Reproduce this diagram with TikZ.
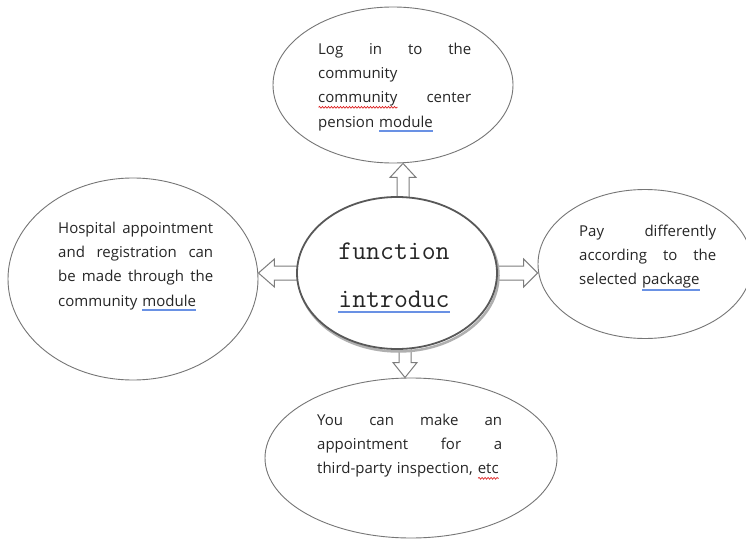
\documentclass[tikz,border=0pt]{standalone}
\usepackage{fontspec}
\setmainfont{Open Sans}
\usetikzlibrary{shapes.geometric,calc,shadows,decorations.pathmorphing}
\definecolor{ovalgray}{RGB}{118,118,118}
\definecolor{arrgray}{RGB}{125,125,125}
\definecolor{cgray}{RGB}{88,88,88}
\definecolor{shadowcol}{RGB}{175,175,175}
\definecolor{txtcol}{RGB}{38,38,38}
\definecolor{ulblue}{RGB}{105,145,228}
\definecolor{ulred}{RGB}{222,40,40}
\setlength\parindent{0pt}
\newsavebox\ulbox
\newlength\ulw
\newcommand\blueline[3]{\leavevmode\sbox\ulbox{#3}\setlength\ulw{\wd\ulbox}\rlap{\color{ulblue}\rule[-#1]{\ulw}{#2}}\usebox\ulbox}
\newcommand\redwave[1]{\leavevmode\sbox\ulbox{#1}\setlength\ulw{\wd\ulbox}\rlap{\tikz[baseline=0pt]{\draw[ulred,line width=0.7pt,decorate,decoration={snake,amplitude=0.9pt,segment length=3pt}] (0pt,-4.5pt) -- (\ulw,-4.5pt);}}\usebox\ulbox}
\pgfdeclarelayer{bg}
\pgfsetlayers{bg,main}
\tikzset{
  oval/.style={ellipse, draw=ovalgray, line width=0.9pt, inner sep=0pt},
  cnode/.style={ellipse, draw=cgray, line width=1.8pt, fill=white, inner sep=0pt,
    drop shadow={shadow xshift=1.5pt, shadow yshift=-2.5pt, opacity=1, fill=none, draw=shadowcol, line width=2.5pt}},
  txt/.style={anchor=north west, inner sep=0pt, font=\fontsize{15}{24.3}\selectfont, text=txtcol},
  ctxt/.style={anchor=base, inner sep=0pt, font=\fontsize{27}{30}\ttfamily, text=txtcol},
  blockarrow/.style={draw=arrgray, line width=1pt, fill=white, line join=miter}
}
\begin{document}
\begin{tikzpicture}[x=1pt,y=-1pt]
\useasboundingbox (0,0) rectangle (746,540);
\begin{pgfonlayer}{bg}
\fill[white] (0,0) rectangle (746,540);
\end{pgfonlayer}
% outer ellipses
\node[oval, minimum width=240pt, minimum height=156pt] (top) at (393,85) {};
\node[oval, minimum width=250pt, minimum height=202pt] (lft) at (133,279) {};
\node[oval, minimum width=214pt, minimum height=149pt] (rgt) at (645,264) {};
\node[oval, minimum width=292pt, minimum height=160pt] (bot) at (411,458) {};
% centre
\node[cnode, minimum width=200pt, minimum height=152pt] (c) at (397,273) {};
% arrow end points
\coordinate (uS) at ($(c.north)+(6,8)$);
\coordinate (uT) at ($(top.south)+(10,0)$);
\coordinate (dS) at ($(c.south)+(8,-8)$);
\coordinate (dT) at ($(bot.north)+(-6,0)$);
\coordinate (lS) at ($(c.west)+(8,0)$);
\coordinate (lT) at (lft.east |- c.west);
\coordinate (rS) at ($(c.east)+(-8,0)$);
\coordinate (rT) at (rgt.west |- c.east);
\begin{pgfonlayer}{bg}
\draw[blockarrow] ([shift={(-6,0)}]uS) -- ([shift={(-6,14)}]uT) -- ([shift={(-13,14)}]uT) -- (uT)
  -- ([shift={(13,14)}]uT) -- ([shift={(6,14)}]uT) -- ([shift={(6,0)}]uS) -- cycle;
\draw[blockarrow] ([shift={(-6,0)}]dS) -- ([shift={(-6,-15)}]dT) -- ([shift={(-12,-15)}]dT) -- (dT)
  -- ([shift={(12,-15)}]dT) -- ([shift={(6,-15)}]dT) -- ([shift={(6,0)}]dS) -- cycle;
\draw[blockarrow] ([shift={(0,-7)}]lS) -- ([shift={(16,-7)}]lT) -- ([shift={(16,-14)}]lT) -- (lT)
  -- ([shift={(16,14)}]lT) -- ([shift={(16,7)}]lT) -- ([shift={(0,7)}]lS) -- cycle;
\draw[blockarrow] ([shift={(0,-7)}]rS) -- ([shift={(-14,-7)}]rT) -- ([shift={(-14,-14)}]rT) -- (rT)
  -- ([shift={(-14,14)}]rT) -- ([shift={(-14,7)}]rT) -- ([shift={(0,7)}]rS) -- cycle;
\end{pgfonlayer}
% centre text
\node[ctxt] (c1) at (394,259) {function};
\node[ctxt] (c2) at (394,307) {\blueline{6pt}{2.2pt}{introduc}};
% texts
\node[txt, text width=153pt] (ttop) at (318,37) {\strut Log\hfill in\hfill to\hfill the\\ community\\ \redwave{community}\hfill center\\ pension \blueline{5pt}{1.8pt}{module}};
\node[txt, text width=155pt] (tlft) at (58,216) {\strut Hospital\hfill appointment\\ and\hfill registration\hfill can\\ be\hfill made\hfill through\hfill the\\ community \blueline{5pt}{1.8pt}{module}};
\node[txt, text width=137pt] (trgt) at (579,219) {\strut Pay\hfill differently\\ according\hfill to\hfill the\\ selected \blueline{6pt}{1.8pt}{package}};
\node[txt, text width=185pt] (tbot) at (317,408) {\strut You\hfill can\hfill make\hfill an\\ appointment\hfill for\hfill a\\ third-party inspection, \redwave{etc}};
\end{tikzpicture}
\end{document}
